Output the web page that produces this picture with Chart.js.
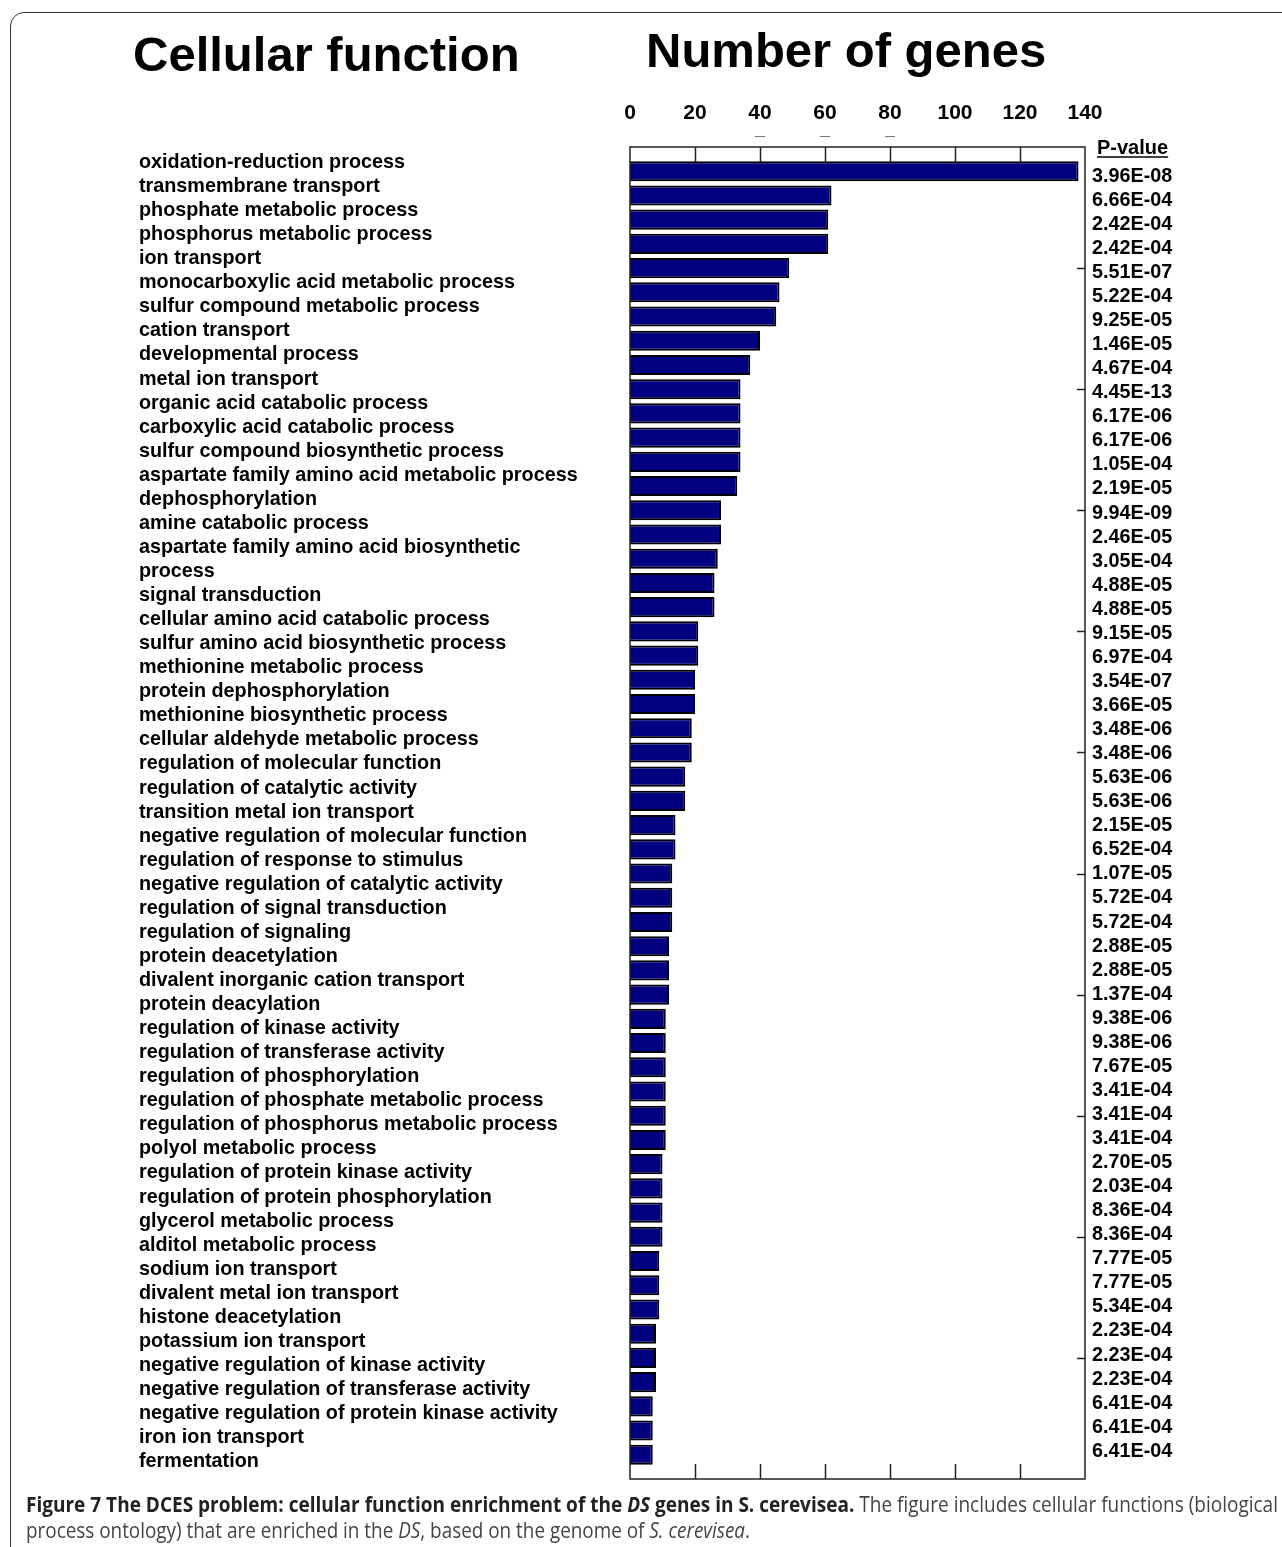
<!DOCTYPE html>
<html>
<head>
<meta charset="utf-8">
<script src="https://cdn.jsdelivr.net/npm/chart.js@4.4.1/dist/chart.umd.min.js"></script>
<style>
  html, body { margin: 0; padding: 0; background: #fff; }
  body { width: 1282px; height: 1547px; position: relative; overflow: hidden; }
  #frame { position: absolute; left: 10px; top: 12px; width: 1320px; height: 1620px;
           border: 1.5px solid #333; border-radius: 14px; box-sizing: border-box; }
  #wrap { position: absolute; left: 0; top: 0; width: 1282px; height: 1547px; }
  .title { position: absolute; font-family: 'Liberation Sans', Arial, sans-serif; font-weight: bold;
           font-size: 49px; line-height: 49px; color: #000; white-space: nowrap; }
  .cap { position: absolute; left: 26px; font-family: 'Open Sans', sans-serif; font-size: 21px;
         line-height: 28px; color: #444; white-space: nowrap; transform-origin: 0 0; }
  .cap b { color: #222; }
</style>
</head>
<body>
<div id="frame"></div>
<div id="wrap"><canvas id="chart"></canvas></div>
<div class="title" style="left:133px; top:29.5px;">Cellular function</div>
<div class="title" style="left:646px; top:25.5px;">Number of genes</div>
<div class="cap" id="cap1" style="top:1490px;"><b>Figure 7 The DCES problem: cellular function enrichment of the <i>DS</i> genes in S. cerevisea.</b> The figure includes cellular functions (biological</div>
<div class="cap" id="cap2" style="top:1516px;">process ontology) that are enriched in the <i>DS</i>, based on the genome of <i>S. cerevisea</i>.</div>

<script>
// GO biological-process terms, in plotted order (a nested array is a wrapped label)
const categories = [
  'oxidation-reduction process',
  'transmembrane transport',
  'phosphate metabolic process',
  'phosphorus metabolic process',
  'ion transport',
  'monocarboxylic acid metabolic process',
  'sulfur compound metabolic process',
  'cation transport',
  'developmental process',
  'metal ion transport',
  'organic acid catabolic process',
  'carboxylic acid catabolic process',
  'sulfur compound biosynthetic process',
  'aspartate family amino acid metabolic process',
  'dephosphorylation',
  'amine catabolic process',
  ['aspartate family amino acid biosynthetic', 'process'],
  'signal transduction',
  'cellular amino acid catabolic process',
  'sulfur amino acid biosynthetic process',
  'methionine metabolic process',
  'protein dephosphorylation',
  'methionine biosynthetic process',
  'cellular aldehyde metabolic process',
  'regulation of molecular function',
  'regulation of catalytic activity',
  'transition metal ion transport',
  'negative regulation of molecular function',
  'regulation of response to stimulus',
  'negative regulation of catalytic activity',
  'regulation of signal transduction',
  'regulation of signaling',
  'protein deacetylation',
  'divalent inorganic cation transport',
  'protein deacylation',
  'regulation of kinase activity',
  'regulation of transferase activity',
  'regulation of phosphorylation',
  'regulation of phosphate metabolic process',
  'regulation of phosphorus metabolic process',
  'polyol metabolic process',
  'regulation of protein kinase activity',
  'regulation of protein phosphorylation',
  'glycerol metabolic process',
  'alditol metabolic process',
  'sodium ion transport',
  'divalent metal ion transport',
  'histone deacetylation',
  'potassium ion transport',
  'negative regulation of kinase activity',
  'negative regulation of transferase activity',
  'negative regulation of protein kinase activity',
  'iron ion transport',
  'fermentation'
];

// Number of genes per bar, top to bottom
const geneCounts = [
  138, 62, 61, 61, 49, 46, 45, 40, 37, 34,
  34, 34, 34, 33, 28, 28, 27, 26, 26, 21,
  21, 20, 20, 19, 19, 17, 17, 14, 14, 13,
  13, 13, 12, 12, 12, 11, 11, 11, 11, 11,
  11, 10, 10, 10, 10, 9, 9, 9, 8, 8,
  8, 7, 7, 7
];

// Enrichment P-values listed beside the bars
const pValues = [
  '3.96E-08', '6.66E-04', '2.42E-04', '2.42E-04', '5.51E-07', '5.22E-04',
  '9.25E-05', '1.46E-05', '4.67E-04', '4.45E-13', '6.17E-06', '6.17E-06',
  '1.05E-04', '2.19E-05', '9.94E-09', '2.46E-05', '3.05E-04', '4.88E-05',
  '4.88E-05', '9.15E-05', '6.97E-04', '3.54E-07', '3.66E-05', '3.48E-06',
  '3.48E-06', '5.63E-06', '5.63E-06', '2.15E-05', '6.52E-04', '1.07E-05',
  '5.72E-04', '5.72E-04', '2.88E-05', '2.88E-05', '1.37E-04', '9.38E-06',
  '9.38E-06', '7.67E-05', '3.41E-04', '3.41E-04', '3.41E-04', '2.70E-05',
  '2.03E-04', '8.36E-04', '8.36E-04', '7.77E-05', '7.77E-05', '5.34E-04',
  '2.23E-04', '2.23E-04', '2.23E-04', '6.41E-04', '6.41E-04', '6.41E-04'
];

// Axis ticks for the gene-count scale
const xTickValues = [0, 20, 40, 60, 80, 100, 120, 140];
const xTickLabels = ['0', '20', '40', '60', '80', '100', '120', '140'];

const FONT = "'Liberation Sans', Arial, Helvetica, sans-serif";
const Y_MIN = -1, Y_MAX = 54;  // one empty row above the first bar
const TEXT_STEP = 0.9934;      // text rows run on a slightly tighter pitch than the bars
const LABEL_START = -0.133;    // baseline of first term label, in bar-index units
const PVAL_START = 0.4327;     // baseline of first P-value, in bar-index units

const labelRows = categories.flatMap(c => Array.isArray(c) ? c : [c]);

const figureDecor = {
  id: 'figureDecor',
  afterDraw(chart) {
    const { ctx, chartArea: a, scales: { x, y } } = chart;
    ctx.save();

    // plot frame
    ctx.strokeStyle = '#222';
    ctx.lineWidth = 1.5;
    ctx.strokeRect(a.left, a.top, a.right - a.left, a.bottom - a.top);

    // inward tick marks on top and bottom edges
    ctx.beginPath();
    xTickValues.slice(1, -1).forEach(v => {
      const px = Math.round(x.getPixelForValue(v)) + 0.5;
      ctx.moveTo(px, a.top); ctx.lineTo(px, a.top + 15);
      ctx.moveTo(px, a.bottom); ctx.lineTo(px, a.bottom - 15);
    });
    ctx.stroke();

    // inward tick marks on the right edge, every fifth bar
    ctx.beginPath();
    for (let i = 4; i < geneCounts.length; i += 5) {
      const py = Math.round(y.getPixelForValue(i)) + 0.5;
      ctx.moveTo(a.right - 8, py); ctx.lineTo(a.right, py);
    }
    ctx.stroke();

    // short marks under the 40 / 60 / 80 tick labels
    ctx.strokeStyle = '#777';
    ctx.lineWidth = 1;
    ctx.beginPath();
    [40, 60, 80].forEach(v => {
      const px = x.getPixelForValue(v);
      ctx.moveTo(px - 5, a.top - 10.5); ctx.lineTo(px + 5, a.top - 10.5);
    });
    ctx.stroke();

    // term labels
    ctx.fillStyle = '#000';
    ctx.font = 'bold 19.8px ' + FONT;
    ctx.textAlign = 'left';
    ctx.textBaseline = 'alphabetic';
    labelRows.forEach((txt, r) => {
      ctx.fillText(txt, a.left - 491, y.getPixelForValue(LABEL_START + r * TEXT_STEP));
    });

    // P-value column
    pValues.forEach((p, i) => {
      ctx.fillText(p, a.right + 7, y.getPixelForValue(PVAL_START + i * TEXT_STEP));
    });

    // column header, underlined
    ctx.font = 'bold 20px ' + FONT;
    const hx = a.right + 12, hy = a.top + 7;
    ctx.fillText('P-value', hx, hy);
    const w = ctx.measureText('P-value').width;
    ctx.strokeStyle = '#000';
    ctx.lineWidth = 1.6;
    ctx.beginPath();
    ctx.moveTo(hx, hy + 3); ctx.lineTo(hx + w, hy + 3);
    ctx.stroke();

    ctx.restore();
  }
};

const forceY = s => { s.min = Y_MIN; s.max = Y_MAX; };

new Chart(document.getElementById('chart'), {
  type: 'bar',
  data: {
    datasets: [{
      data: geneCounts.map((v, i) => ({ x: v, y: i })),
      backgroundColor: '#000080',
      borderColor: '#000000',
      borderWidth: 2,
      barPercentage: 0.83,
      categoryPercentage: 1
    }]
  },
  options: {
    indexAxis: 'y',
    responsive: true,
    maintainAspectRatio: false,
    animation: false,
    layout: { padding: { left: 630, right: 197, top: 97, bottom: 68 } },
    plugins: { legend: { display: false }, tooltip: { enabled: false } },
    scales: {
      x: {
        type: 'linear',
        position: 'top',
        min: 0,
        max: 140,
        grid: { display: false },
        border: { display: false },
        afterBuildTicks: s => { s.ticks = xTickValues.map(v => ({ value: v })); },
        afterFit: s => { s.height = 50; },
        ticks: {
          autoSkip: false,
          maxRotation: 0,
          padding: 13,
          color: '#000',
          font: { family: FONT, weight: 'bold', size: 21 },
          callback: v => xTickLabels[xTickValues.indexOf(v)]
        }
      },
      y: {
        type: 'linear', min: Y_MIN, max: Y_MAX, reverse: true, display: false,
        offset: false, grace: 0, bounds: 'data',
        afterDataLimits: forceY,
        afterBuildTicks: forceY
      }
    }
  },
  plugins: [figureDecor]
});

// stretch each caption line to its measured width
function fitCaption() {
  [['cap1', 1252], ['cap2', 724]].forEach(([id, target]) => {
    const el = document.getElementById(id);
    el.style.transform = 'none';
    const w = el.getBoundingClientRect().width;
    el.style.transform = 'scaleX(' + (target / w) + ')';
  });
}
fitCaption();
if (document.fonts && document.fonts.ready) document.fonts.ready.then(fitCaption);
</script>
</body>
</html>
